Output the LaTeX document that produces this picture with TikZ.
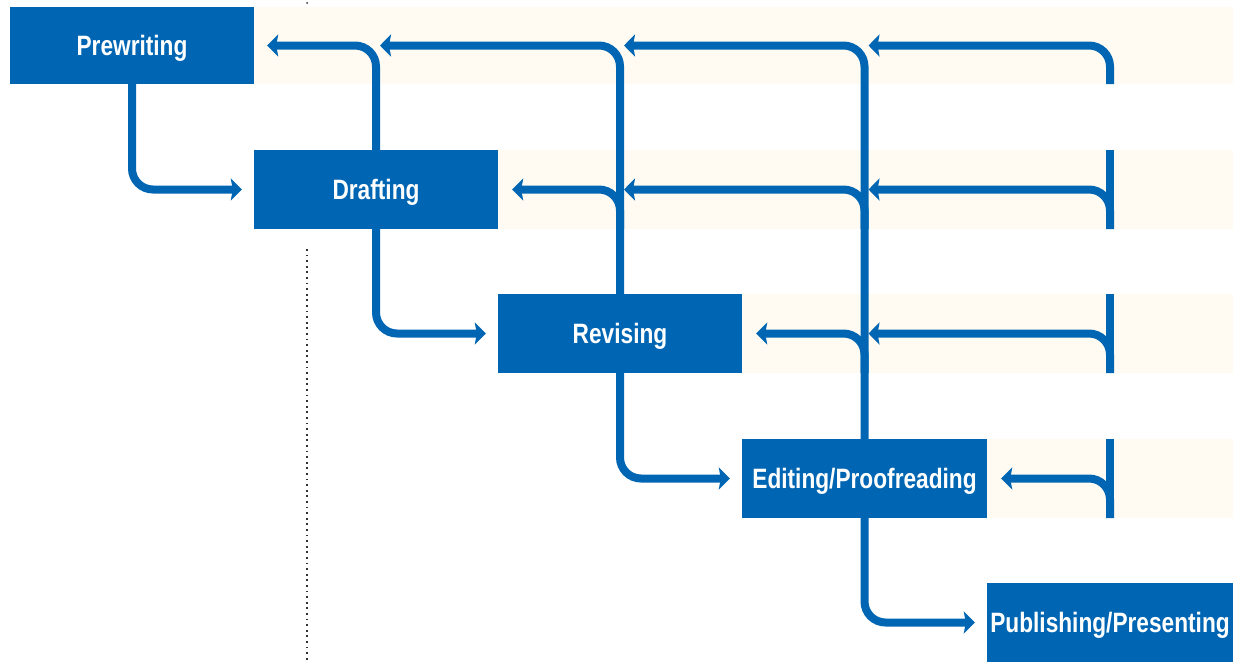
\documentclass[tikz,border=0pt]{standalone}
\usepackage{fontspec}
\setmainfont{Liberation Sans}[FakeStretch=0.81]
\usetikzlibrary{arrows.meta,calc}
\definecolor{flowblue}{HTML}{0066B3}
\definecolor{cream}{HTML}{FFFBF2}
\definecolor{dotgray}{HTML}{333333}
\tikzset{
  stagebox/.style={rectangle, fill=flowblue, text=white, inner sep=0pt,
    minimum width=244pt, minimum height=78pt, text height=20pt, text depth=1pt,
    font=\fontsize{28}{28}\selectfont\bfseries},
  fb/.style={draw=flowblue, line width=8pt, rounded corners=21pt,
    -{Stealth[length=11pt,width=22pt,inset=2pt]}},
  fbline/.style={draw=flowblue, line width=8pt},
  band/.style={fill=cream}
}
\begin{document}
\begin{tikzpicture}[x=1pt,y=-1pt]
\useasboundingbox (0,0) rectangle (1239,662);
% bands
\fill[band] (254,7) rectangle (1233,84);
\fill[band] (498,150) rectangle (1233,229);
\fill[band] (742,294) rectangle (1233,373);
\fill[band] (986,439) rectangle (1233,518);
% dotted line
\fill[dotgray] (307,3) circle (1);
\draw[dotgray, line width=1.8pt, dash pattern=on 1.8pt off 3.8pt] (307,249) -- (307,662);
% boxes (positions)
\path (132,45.5) node[stagebox, minimum height=77pt] (pre) {}
      (376,189.5) node[stagebox, minimum height=79pt] (dra) {}
      (620,333.5) node[stagebox, minimum height=79pt] (rev) {}
      (864.5,478.5) node[stagebox, minimum height=79pt, minimum width=245pt] (edi) {}
      (1110,622.5) node[stagebox, minimum height=79pt, minimum width=246pt] (pub) {};
% forward arrows
\draw[fb] (pre.south) |- ($(dra.west)+(-12,0)$);
\draw[fb] (dra.south) |- ($(rev.west)+(-12,0)$);
\draw[fb] (rev.south) |- ($(edi.west)+(-12,0)$);
\draw[fb] (edi.south) |- ($(pub.west)+(-12,0)$);
% feedback from Drafting
\draw[fb] (dra.north) |- ($(pre.east)+(13,0)$);
% feedback from Revising
\draw[fb] (rev.north) |- ($(dra.center |- pre.east)+(4,0)$);
\draw[fb] (rev.center |- dra.south) |- ($(dra.east)+(14,0)$);
% feedback from Editing
\draw[fb] (edi.north) |- ($(rev.center |- pre.east)+(4,0)$);
\draw[fb] (edi.center |- dra.south) |- ($(rev.center |- dra.east)+(4,0)$);
\draw[fb] (edi.center |- rev.south) |- ($(rev.east)+(14,0)$);
% feedback from Publishing
\draw[fb] (pub.center |- pre.south) |- ($(edi.center |- pre.east)+(4,0)$);
\draw[fbline] (pub.center |- dra.north) -- (pub.center |- dra.south);
\draw[fb] (pub.center |- dra.south) |- ($(edi.center |- dra.east)+(4,0)$);
\draw[fbline] (pub.center |- rev.north) -- (pub.center |- rev.south);
\draw[fb] (pub.center |- rev.south) |- ($(edi.center |- rev.east)+(4,0)$);
\draw[fbline] (pub.center |- edi.north) -- (pub.center |- edi.south);
\draw[fb] (pub.center |- edi.south) |- ($(edi.east)+(14,0)$);
% boxes (drawn on top)
\node[stagebox, minimum height=77pt] at (pre) {Prewriting};
\node[stagebox, minimum height=79pt] at (dra) {Drafting};
\node[stagebox, minimum height=79pt] at (rev) {Revising};
\node[stagebox, minimum height=79pt, minimum width=245pt] at (edi) {Editing/Proofreading};
\node[stagebox, minimum height=79pt, minimum width=246pt] at (pub) {Publishing/Presenting};
\end{tikzpicture}
\end{document}
